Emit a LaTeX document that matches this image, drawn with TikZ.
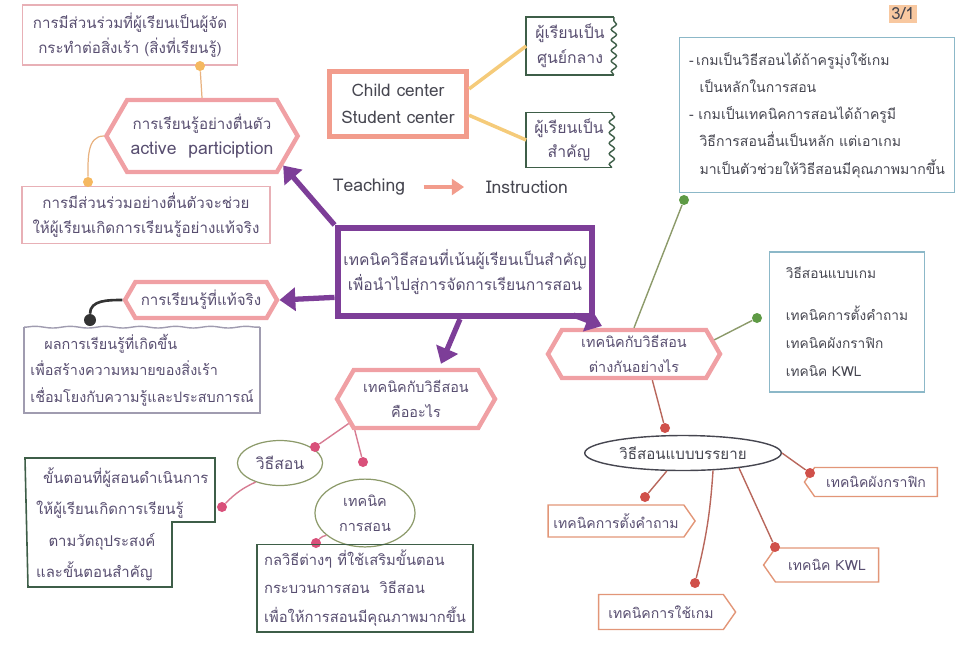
\documentclass[tikz,border=0pt]{standalone}
\usepackage{fontspec}
\setmainfont{Loma}[Script=Thai]
\usetikzlibrary{shapes.geometric,shapes.symbols,arrows.meta,calc,decorations.pathmorphing}

\definecolor{inkcol}{RGB}{88,78,112}
\definecolor{darkink}{RGB}{70,70,80}
\definecolor{pinkline}{RGB}{232,176,182}
\definecolor{hexpink}{RGB}{240,160,164}
\definecolor{salmon}{RGB}{242,156,140}
\definecolor{purpleink}{RGB}{125,62,152}
\definecolor{boxgreen}{RGB}{62,94,72}
\definecolor{boxblue}{RGB}{140,184,200}
\definecolor{greyline}{RGB}{160,156,176}
\definecolor{yellowline}{RGB}{245,203,122}
\definecolor{orangeline}{RGB}{232,178,128}
\definecolor{orangedot}{RGB}{245,184,96}
\definecolor{greenline}{RGB}{140,154,106}
\definecolor{greendot}{RGB}{94,154,69}
\definecolor{pinkdot}{RGB}{217,80,122}
\definecolor{pinkthin}{RGB}{215,124,147}
\definecolor{redline}{RGB}{184,103,92}
\definecolor{reddot}{RGB}{208,80,74}
\definecolor{flagline}{RGB}{226,150,120}
\definecolor{pagefill}{RGB}{248,200,160}

\begin{document}
\begin{tikzpicture}[x=0.02cm, y=-0.02cm,
	font=\fontsize{8.6}{14.5}\selectfont, text=inkcol,
	note/.style={draw=pinkline, line width=0.8pt, rectangle, align=center},
	hexa/.style={draw=hexpink, line width=2.5pt, signal, signal to=east and west, signal pointer angle=120, align=center, inner sep=2pt},
	flag/.style={draw=flagline, line width=0.8pt, signal, signal pointer angle=110, inner sep=2pt, font=\fontsize{8}{12}\selectfont},
	greenbox/.style={rectangle, align=center, font=\fontsize{9}{14}\selectfont},
	bluebox/.style={draw=boxblue, line width=0.8pt, rectangle, align=left, text=darkink},
	oval/.style={draw=greenline, line width=0.7pt, ellipse, align=center},
	dot/.style={circle, inner sep=0pt, minimum size=0.2cm},
	bigarrow/.style={purpleink, line width=3pt, -{Triangle[length=9pt,width=13pt]}}]
\useasboundingbox (0,0) rectangle (960,654);

% Page number
\node[fill=pagefill, inner sep=1.5pt, text=darkink, font=\fontsize{9.5}{12}\selectfont] (page) at (903,14) {3/1};

% Top left
\node[note, minimum width=4.3cm, minimum height=1.2cm] (stim) at (130,35) {การมีส่วนร่วมที่ผู้เรียนเป็นผู้จัด\\กระทำต่อสิ่งเร้า (สิ่งที่เรียนรู้)};
\node[hexa, minimum width=3.6cm, minimum height=1.44cm] (active) at (202,136) {การเรียนรู้อย่างตื่นตัว\\{\fontsize{10}{14}\selectfont active\ \ particiption}};
\node[note, minimum width=4.96cm, minimum height=1.1cm] (engage) at (146,215) {การมีส่วนร่วมอย่างตื่นตัวจะช่วย\\ให้ผู้เรียนเกิดการเรียนรู้อย่างแท้จริง};
\node[dot, fill=orangedot] (odot1) at (200,66) {};
\node[dot, fill=orangedot] (odot2) at (88,182) {};
\draw[orangeline, line width=0.7pt] (active.north) -- (odot1);
\draw[orangeline, line width=0.7pt] (active.west) to[out=180, in=90] (odot2);

% Child center
\node[draw=salmon, line width=3pt, rectangle, minimum width=2.74cm, minimum height=1.3cm, align=center, text=darkink, font=\fontsize{9.8}{15}\selectfont] (child) at (398,104) {Child center\\Student center};
\node[greenbox, minimum width=1.74cm, minimum height=1.14cm] (hub) at (570,46) {ผู้เรียนเป็น\\ศูนย์กลาง};
\node[greenbox, minimum width=1.7cm, minimum height=1.08cm] (core) at (569,140) {ผู้เรียนเป็น\\สำคัญ};
\foreach \b in {hub,core} {
	\draw[boxgreen, line width=0.8pt] (\b.north east) -- (\b.north west) -- (\b.south west) -- (\b.south east);
	\draw[boxgreen, line width=0.8pt, decorate, decoration={snake, amplitude=1.5pt, segment length=6pt}] (\b.south east) -- (\b.north east);
}
\draw[yellowline, line width=2pt] (child.12) -- (hub.west);
\draw[yellowline, line width=2pt] (child.-9) -- (core.west);

% Teaching -> Instruction
\node[text=darkink, font=\fontsize{10}{14}\selectfont] (teach) at (369,187) {Teaching};
\node[text=darkink, font=\fontsize{10}{14}\selectfont] (instr) at (527,187) {Instruction};
\draw[salmon, line width=2.5pt, -{Triangle[length=7pt,width=9pt]}, shorten <=7pt, shorten >=9pt] (teach.east) -- (instr.west);

% Game note
\node[bluebox, minimum width=5.5cm, minimum height=3.1cm, font=\fontsize{8}{15.5}\selectfont] (gamenote) at (817,115) {-\,เกมเป็นวิธีสอนได้ถ้าครูมุ่งใช้เกม\\\hspace{6pt}เป็นหลักในการสอน\\- เกมเป็นเทคนิคการสอนได้ถ้าครูมี\\\hspace{6pt}วิธีการสอนอื่นเป็นหลัก แต่เอาเกม\\\hspace{6pt}มาเป็นตัวช่วยให้วิธีสอนมีคุณภาพมากขึ้น};

% Main topic
\node[draw=purpleink, line width=3.5pt, rectangle, minimum width=5cm, minimum height=1.76cm, align=center, font=\fontsize{8.9}{14.5}\selectfont] (main) at (465,272) {เทคนิควิธีสอนที่เน้นผู้เรียนเป็นสำคัญ\\เพื่อนำไปสู่การจัดการเรียนการสอน};

% Real learning
\node[hexa, minimum width=3.04cm, minimum height=0.72cm] (real) at (201,300) {การเรียนรู้ที่แท้จริง};
\node[rectangle, minimum width=4.7cm, minimum height=1.7cm, align=left, font=\fontsize{8.2}{15}\selectfont] (outcome) at (142,370) {\hspace{8pt}ผลการเรียนรู้ที่เกิดขึ้น\\เพื่อสร้างความหมายของสิ่งเร้า\\เชื่อมโยงกับความรู้และประสบการณ์};
\draw[greyline, line width=0.8pt] (outcome.north east) -- (outcome.south east) -- (outcome.south west) -- (outcome.north west);
\draw[greyline, line width=0.8pt, decorate, decoration={snake, amplitude=0.5pt, segment length=20pt}] (outcome.north west) -- (outcome.north east);
\node[dot, fill=black!80, minimum size=0.24cm] (bdot) at (90,320) {};
\draw[black!80, line width=1.5pt] (real.west) to[out=180, in=90] (bdot);

% What are they
\node[hexa, minimum width=3.16cm, minimum height=1.16cm, font=\fontsize{8.2}{14}\selectfont] (what) at (416,399) {เทคนิคกับวิธีสอน\\คืออะไร};
\node[oval, minimum width=1.4cm, minimum height=0.9cm, font=\fontsize{9}{13}\selectfont] (method) at (280,463) {วิธีสอน};
\node[oval, minimum width=2cm, minimum height=1.24cm, font=\fontsize{8.2}{14}\selectfont] (technique) at (365,513) {เทคนิค\\การสอน};
\node[dot, fill=pinkdot] (pdot1) at (315,447) {};
\node[dot, fill=pinkdot] (pdot2) at (363,462) {};
\node[dot, fill=pinkdot] (pdot3) at (222,507) {};
\node[dot, fill=pinkdot] (pdot4) at (316,543) {};
\draw[pinkthin, line width=0.8pt] (what.200) -- (pdot1);
\draw[pinkthin, line width=0.8pt] (what.207) -- (pdot2);
\draw[pinkthin, line width=0.8pt] (method.218) to[bend right=10] (pdot3);
\draw[pinkthin, line width=0.8pt] (technique.210) to[bend right=15] (pdot4);

% Steps and tactics
\draw[boxgreen, line width=0.9pt] (25,458) -- (215,458) -- (215,522) -- (172,522) -- (172,587) -- (28,587) -- cycle;
\node[align=left, anchor=north west, font=\fontsize{8.5}{18}\selectfont] (steps) at (30,461) {\hspace{4pt}ขั้นตอนที่ผู้สอนดำเนินการ\\ให้ผู้เรียนเกิดการเรียนรู้\\\hspace{7pt}ตามวัตถุประสงค์\\และขั้นตอนสำคัญ};
\node[draw=boxgreen, line width=0.9pt, rectangle, minimum width=4.32cm, minimum height=1.7cm, align=left, font=\fontsize{8.4}{16}\selectfont] (tactics) at (365,588) {กลวิธีต่างๆ ที่ใช้เสริมขั้นตอน\\กระบวนการสอน\ \ วิธีสอน\\เพื่อให้การสอนมีคุณภาพมากขึ้น};

% How do they differ
\node[hexa, minimum width=3.44cm, minimum height=0.96cm, font=\fontsize{8.2}{14}\selectfont] (diff) at (634,354) {เทคนิคกับวิธีสอน\\ต่างกันอย่างไร};
\node[bluebox, minimum width=3.1cm, minimum height=2.8cm, font=\fontsize{7.8}{16}\selectfont] (games) at (847,322) {วิธีสอนแบบเกม\\[8pt]เทคนิคการตั้งคำถาม\\เทคนิคผังกราฟิก\\เทคนิค KWL};
\node[dot, fill=greendot] (gdot1) at (684,200) {};
\node[dot, fill=greendot] (gdot2) at (757,318) {};
\draw[greenline, line width=0.8pt] (diff.north) -- (gdot1);
\draw[greenline, line width=0.8pt] (diff.10) -- (gdot2);

% Lecture and techniques
\node[draw=darkink, line width=0.8pt, ellipse, minimum width=3.1cm, minimum height=0.7cm, text=darkink, font=\fontsize{8.6}{12}\selectfont] (lecture) at (683,453) {วิธีสอนแบบบรรยาย};
\node[flag, signal to=east, minimum width=2.94cm, minimum height=0.64cm] (askq) at (616,521) {เทคนิคการตั้งคำถาม};
\node[flag, signal to=east, minimum width=2.74cm, minimum height=0.7cm] (usegame) at (661,612) {เทคนิคการใช้เกม};
\node[flag, signal to=west, minimum width=2.3cm, minimum height=0.68cm] (kwl) at (827,565) {เทคนิค KWL};
\node[flag, signal to=west, minimum width=2.66cm, minimum height=0.58cm] (graphic) at (876,482) {เทคนิคผังกราฟิก};
\node[dot, fill=reddot] (rdot1) at (665,428) {};
\node[dot, fill=reddot] (rdot2) at (645,497) {};
\node[dot, fill=reddot] (rdot3) at (695,583) {};
\node[dot, fill=reddot] (rdot4) at (775,547) {};
\node[dot, fill=reddot] (rdot5) at (810,473) {};
\draw[redline, line width=0.8pt] (diff.-55) -- (rdot1);
\draw[redline, line width=0.8pt] (lecture.228) -- (rdot2);
\draw[redline, line width=0.8pt] (lecture.-30) to[bend left=5] (rdot3);
\draw[redline, line width=0.8pt] (lecture.-15) -- (rdot4);
\draw[redline, line width=0.8pt] (lecture.east) -- (rdot5);

% Purple arrows from main topic
\draw[bigarrow] (main.north west) -- (active.-20);
\draw[bigarrow] (main.191) -- (real.east);
\draw[bigarrow] ($(main.south)+(-5,0)$) -- ($(what.north)+(25,-4)$);
\draw[bigarrow] ($(main.south east)+(-22,-4)$) -- ($(diff.center)+(-32,-28)$);
\end{tikzpicture}
\end{document}
